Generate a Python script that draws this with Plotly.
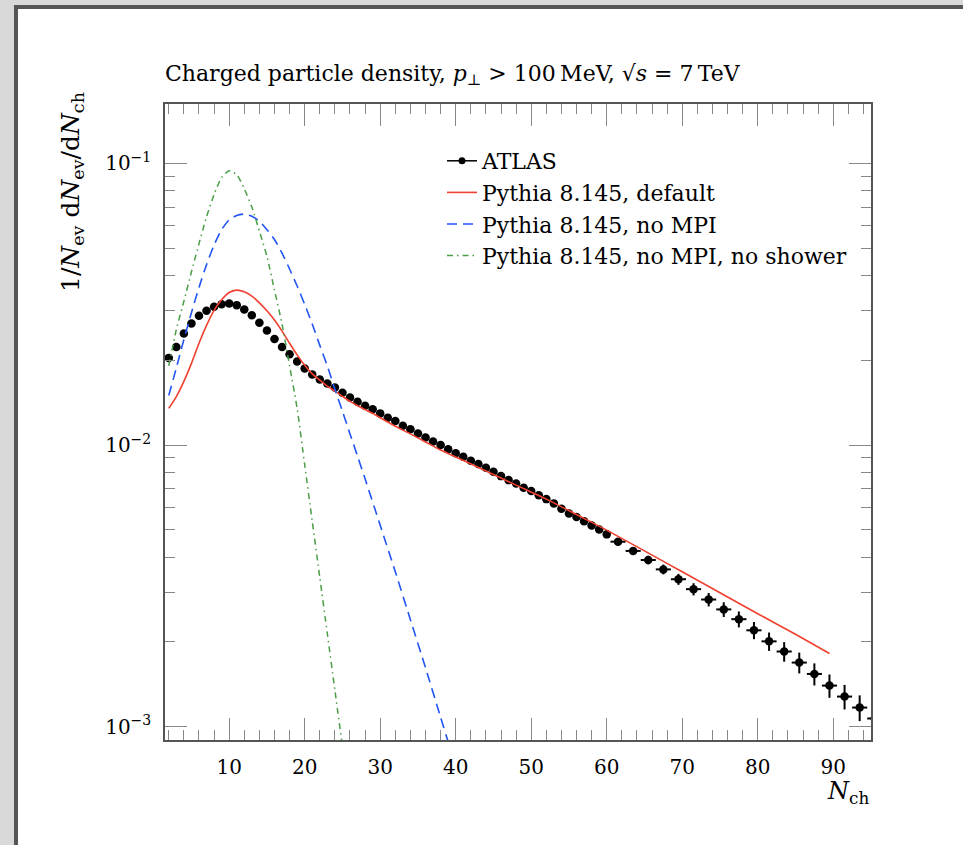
import plotly.graph_objects as go

# ---------------- data ----------------
atlas_x = [2, 3, 4, 5, 6, 7, 8, 9, 10, 11, 12, 13, 14, 15, 16, 17, 18, 19, 20,
           21, 22, 23, 24, 25, 26, 27, 28, 29, 30, 31, 32, 33, 34, 35, 36, 37, 38, 39, 40,
           41, 42, 43, 44, 45, 46, 47, 48, 49, 50, 51, 52, 53, 54, 55, 56, 57, 58, 59, 60,
           61.5, 63.5, 65.5, 67.5, 69.5, 71.5, 73.5, 75.5, 77.5, 79.5, 81.5, 83.5, 85.5,
           87.5, 89.5, 91.5, 93.5, 95.5]
atlas_y = [0.0204, 0.0223, 0.0249, 0.0270, 0.0288, 0.0300, 0.0310, 0.0316, 0.0318, 0.0314,
           0.0303, 0.0289, 0.0272, 0.0255, 0.0238, 0.0223, 0.0210, 0.0198, 0.0187,
           0.0178, 0.0171, 0.01656, 0.0160, 0.01534, 0.01477, 0.01425, 0.01380, 0.01340, 0.01296,
           0.01250, 0.01217, 0.01172, 0.01138, 0.0110, 0.01065, 0.01030, 0.01000, 0.00966, 0.00935,
           0.00909, 0.00880, 0.00857, 0.00831, 0.00804, 0.00776, 0.00751, 0.00731, 0.00706, 0.00687,
           0.00664, 0.00643, 0.00621, 0.00594, 0.00572, 0.00556, 0.00537, 0.00518, 0.00502, 0.00482,
           0.00454, 0.00421, 0.00391, 0.00362, 0.00334, 0.00308, 0.00283, 0.00261, 0.00241,
           0.00220, 0.00201, 0.00185, 0.00169, 0.00154, 0.00140, 0.00128, 0.00117, 0.00107]
atlas_xerr = [0.5] * 59 + [1.0] * 18
atlas_yerr_pct = [1.0] * 59 + [2.5, 3.0, 3.5, 4.0, 4.5, 5.0, 5.5, 6.0, 6.5, 7.0, 7.5, 8.0,
                               8.5, 9.0, 9.5, 10.0, 10.5, 11.0]

default_x = [2, 3, 4, 5, 6, 7, 8, 9, 10, 11, 12, 13, 14, 15, 16, 17, 18, 19, 20, 21, 22, 23,
             24, 25, 26, 27, 28, 29, 30, 32, 34, 36, 38, 40, 44, 48, 52, 56, 60, 65, 70, 75,
             80, 85, 89.5]
default_y = [0.0135, 0.01486, 0.01683, 0.0195, 0.0230, 0.0266, 0.0301, 0.0328, 0.0348, 0.0355,
             0.0350, 0.0338, 0.0320, 0.0300, 0.0278, 0.0254, 0.0230, 0.0209, 0.0192, 0.0179,
             0.0170, 0.0162, 0.01555, 0.01490, 0.01429, 0.0138, 0.01337, 0.01296, 0.0125,
             0.01167, 0.01096, 0.01026, 0.0096, 0.00908, 0.00809, 0.00721, 0.00643, 0.00567,
             0.00499, 0.00421, 0.00355, 0.00299, 0.00252, 0.00213, 0.00182]

nompi_x = [2, 3, 4, 5, 6, 7, 8, 9, 10, 11, 12, 13, 14, 15, 16, 17, 18, 19, 20, 21, 22, 23, 24,
           25, 26, 27, 28, 30, 32, 34, 36, 38, 40]
nompi_y = [0.0150, 0.0188, 0.0237, 0.0295, 0.0363, 0.0437, 0.0513, 0.0582, 0.0631, 0.0653,
           0.0661, 0.0649, 0.0624, 0.0582, 0.0537, 0.0480, 0.0422, 0.0367, 0.0316, 0.0269,
           0.0226, 0.0191, 0.0158, 0.0132, 0.01096, 0.00912, 0.00759, 0.00519, 0.00355,
           0.0024, 0.00162, 0.00108, 0.000724]

noshower_x = [2, 3, 4, 5, 6, 7, 8, 9, 10, 11, 12, 13, 14, 15, 16, 17, 18, 19, 20, 21, 22,
              23, 24, 25]
noshower_y = [0.0191, 0.0257, 0.0324, 0.0412, 0.0519, 0.0646, 0.0776, 0.0891, 0.0942, 0.0912,
              0.0813, 0.0700, 0.0575, 0.0468, 0.0355, 0.0269, 0.0191, 0.0135, 0.00851, 0.00537,
              0.00339, 0.00214, 0.00135, 0.00085]

x_tick_vals = [10, 20, 30, 40, 50, 60, 70, 80, 90]
x_minor_vals = [2, 4, 6, 8, 12, 14, 16, 18, 22, 24, 26, 28, 32, 34, 36, 38, 42, 44, 46, 48,
                52, 54, 56, 58, 62, 64, 66, 68, 72, 74, 76, 78, 82, 84, 86, 88, 92, 94]
y_tick_vals = [0.001, 0.01, 0.1]
y_tick_text = ["10<sup>−3</sup>", "10<sup>−2</sup>", "10<sup>−1</sup>"]
y_minor_vals = [0.0009, 0.002, 0.003, 0.004, 0.005, 0.006, 0.007, 0.008, 0.009,
                0.02, 0.03, 0.04, 0.05, 0.06, 0.07, 0.08, 0.09]

labels = ["ATLAS", "Pythia 8.145, default", "Pythia 8.145, no MPI",
          "Pythia 8.145, no MPI, no shower"]

# ---------------- layout geometry ----------------
W, H = 963, 845
ML, MR, MT, MB = 165, 92, 104, 105
PW, PH = W - ML - MR, H - MT - MB
FONT = "DejaVu Serif"


def pxx(px):
    return (px - ML) / PW


def pxy(py):
    return (H - MB - py) / PH


atlas_yerr = [y * p / 100.0 for y, p in zip(atlas_y, atlas_yerr_pct)]

fig = go.Figure()

# legend-only entry for the data (line + dot, like the reference legend)
fig.add_trace(go.Scatter(x=[None], y=[None], mode="lines+markers", name=labels[0],
                         line=dict(color="black", width=1.5),
                         marker=dict(color="black", size=7)))

fig.add_trace(go.Scatter(x=atlas_x, y=atlas_y, mode="markers", name=labels[0],
                         showlegend=False,
                         marker=dict(color="black", size=8.5),
                         error_x=dict(type="data", array=atlas_xerr, color="black",
                                      thickness=2, width=0),
                         error_y=dict(type="data", array=atlas_yerr, color="black",
                                      thickness=2, width=0)))

fig.add_trace(go.Scatter(x=default_x, y=default_y, mode="lines", name=labels[1],
                         line=dict(color="#f0402f", width=1.6, shape="spline",
                                   smoothing=0.6)))
fig.add_trace(go.Scatter(x=nompi_x, y=nompi_y, mode="lines", name=labels[2],
                         line=dict(color="#2255f5", width=1.6, dash="10px,6px",
                                   shape="spline", smoothing=0.6)))
fig.add_trace(go.Scatter(x=noshower_x, y=noshower_y, mode="lines", name=labels[3],
                         line=dict(color="#4a9e45", width=1.5, dash="6px,4px,1.5px,4px",
                                   shape="spline", smoothing=0.6)))

axis_common = dict(showline=True, linecolor="#555555", linewidth=1.5, mirror="allticks",
                   ticks="inside", ticklen=22, tickwidth=1.3, tickcolor="#888888",
                   showgrid=False, zeroline=False,
                   tickfont=dict(family=FONT, size=20, color="black"))

fig.update_xaxes(range=[1.5, 95], tickmode="array", tickvals=x_tick_vals,
                 ticklabelstandoff=8,
                 minor=dict(tickmode="array", tickvals=x_minor_vals, ticks="inside",
                            ticklen=10, tickwidth=1.3, tickcolor="#888888"),
                 **axis_common)
fig.update_yaxes(type="log", range=[-3.047, -0.789], tickmode="array",
                 tickvals=y_tick_vals, ticktext=y_tick_text, ticklabelstandoff=8,
                 minor=dict(tickmode="array", tickvals=y_minor_vals, ticks="inside",
                            ticklen=10, tickwidth=1.3, tickcolor="#888888"),
                 **axis_common)

# window frame of the screenshot
frame_light = "#d9d9d9"
frame_dark = "#555555"
shapes = [
    dict(type="rect", xref="paper", yref="paper", x0=pxx(0), x1=pxx(14), y0=pxy(H), y1=pxy(0),
         fillcolor=frame_light, line=dict(width=0), layer="above"),
    dict(type="rect", xref="paper", yref="paper", x0=pxx(0), x1=pxx(W), y0=pxy(5), y1=pxy(0),
         fillcolor=frame_light, line=dict(width=0), layer="above"),
    dict(type="rect", xref="paper", yref="paper", x0=pxx(14), x1=pxx(18), y0=pxy(H), y1=pxy(5),
         fillcolor=frame_dark, line=dict(width=0), layer="above"),
    dict(type="rect", xref="paper", yref="paper", x0=pxx(14), x1=pxx(W), y0=pxy(9), y1=pxy(5),
         fillcolor=frame_dark, line=dict(width=0), layer="above"),
]

annotations = [
    dict(text="1/<i>N</i><sub>ev</sub> d<i>N</i><sub>ev</sub>/d<i>N</i><sub>ch</sub>",
         xref="paper", yref="paper", x=pxx(72), y=pxy(90), xanchor="center", yanchor="top",
         textangle=-90, showarrow=False, font=dict(family=FONT, size=25, color="black")),
    dict(text="<i>N</i><sub>ch</sub>", xref="paper", yref="paper", x=1.0, y=pxy(792),
         xanchor="right", yanchor="middle", showarrow=False,
         font=dict(family=FONT, size=24, color="black")),
]

fig.update_layout(
    width=W, height=H,
    margin=dict(l=ML, r=MR, t=MT, b=MB, autoexpand=False),
    paper_bgcolor="white", plot_bgcolor="white",
    title=dict(text="Charged particle density, <i>p</i><sub>⊥</sub> > 100\u2009MeV, "
                    "√<i>s</i> = 7\u2009TeV",
               x=ML / W, xanchor="left", y=1 - 73 / H, yanchor="middle",
               font=dict(family=FONT, size=22, color="black")),
    legend=dict(x=pxx(442), y=pxy(140), xanchor="left", yanchor="top",
                bgcolor="rgba(0,0,0,0)", borderwidth=0,
                font=dict(family=FONT, size=22, color="black")),
    shapes=shapes, annotations=annotations, showlegend=True,
)

fig.write_html("out.html", config={"displayModeBar": False},
               post_script="document.body.style.margin='0px';"
                           "document.body.style.padding='0px';")
